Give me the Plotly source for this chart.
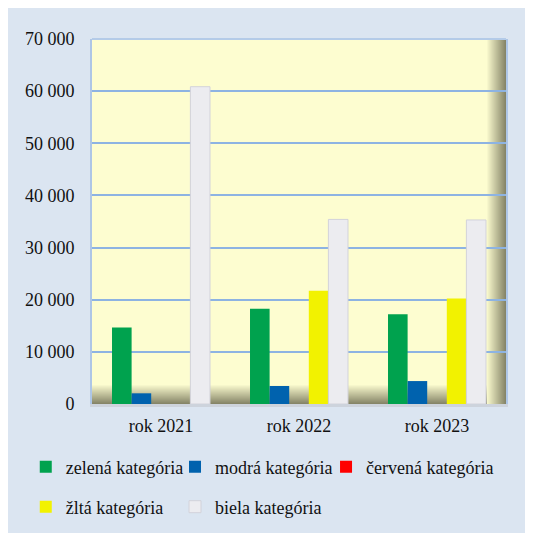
import plotly.graph_objects as go

categories = ["rok 2021", "rok 2022", "rok 2023"]
series_names = ["zelená kategória", "modrá kategória", "červená kategória", "žltá kategória", "biela kategória"]
zelena = [14650, 18250, 17200]
modra = [2050, 3450, 4400]
cervena = [0, 0, 0]
zlta = [0, 21700, 20250]
biela = [60850, 35400, 35300]
y_ticks = [0, 10000, 20000, 30000, 40000, 50000, 60000, 70000]

values = [zelena, modra, cervena, zlta, biela]
colors = ["#00a24e", "#0062ae", "#ff0000", "#f2f200", "#ececf0"]
line_colors = ["#00a24e", "#0062ae", "#ff0000", "#f2f200", "#d2d2da"]
line_widths = [0, 0, 0, 0, 1]
legend_ids = ["legend", "legend2", "legend3", "legend4", "legend5"]

fig = go.Figure()
for name, vals, c, lc, lw, lg in zip(series_names, values, colors, line_colors, line_widths, legend_ids):
    fig.add_trace(go.Bar(
        x=categories, y=vals, name=name,
        marker=dict(color=c, line=dict(color=lc, width=lw)),
        legend=lg, showlegend=True,
    ))

# decorative 3D-ish shading of floor and right wall (opaque strips, linear gradient)
plot_w_px = 414.0
plot_h_px = 365.0
bg = (253, 253, 208)
dark = (134, 133, 104)
shapes = []
n = 19
for i in range(n):
    t = (i + 1) / n
    col = "rgb(%d,%d,%d)" % tuple(int(round(bg[k] + (dark[k] - bg[k]) * t)) for k in range(3))
    y1 = (n - i) / plot_h_px
    y0 = (n - i - 1.6) / plot_h_px
    shapes.append(dict(type="rect", xref="paper", yref="paper", x0=0, x1=1, y0=max(y0, 0), y1=y1,
                       fillcolor=col, line=dict(width=0), layer="below"))
for i in range(n):
    t = (i + 1) / n
    col = "rgb(%d,%d,%d)" % tuple(int(round(bg[k] + (dark[k] - bg[k]) * t)) for k in range(3))
    x0 = 1 - (n - i) / plot_w_px
    x1 = 1 - (n - i - 1.6) / plot_w_px
    shapes.append(dict(type="rect", xref="paper", yref="paper", x0=x0, x1=min(x1, 1), y0=0, y1=1,
                       fillcolor=col, line=dict(width=0), layer="below"))
# top border of the plot area
shapes.append(dict(type="line", xref="paper", yref="paper", x0=0, x1=1, y0=1, y1=1,
                   line=dict(color="#b4cbe8", width=2)))

font_family = "Liberation Serif"
legend_font = dict(family=font_family, size=18, color="#111111")

col_x = [-0.160, 0.2005, 0.5653]
row_y = [-0.1219, -0.2315]
legend_pos = {
    "legend": (col_x[0], row_y[0]),
    "legend2": (col_x[1], row_y[0]),
    "legend3": (col_x[2], row_y[0]),
    "legend4": (col_x[0], row_y[1]),
    "legend5": (col_x[1], row_y[1]),
}
legend_layout = {}
for key, (lx, ly) in legend_pos.items():
    legend_layout[key] = dict(orientation="h", x=lx, xanchor="left", y=ly, yanchor="top",
                              bgcolor="rgba(0,0,0,0)", font=legend_font, visible=True)

fig.update_layout(
    width=517, height=533,
    margin=dict(l=84, r=19, t=31, b=137),
    paper_bgcolor="#dbe5f1",
    plot_bgcolor="#fdfdd0",
    barmode="group",
    bargap=0.29,
    bargroupgap=0,
    separators=", ",
    showlegend=True,
    font=dict(family=font_family, size=18, color="#111111"),
    shapes=shapes,
    **legend_layout,
)
fig.update_yaxes(range=[0, 70000], tickvals=y_ticks, tickformat=",d",
                 showgrid=True, gridcolor="#8db3e2", gridwidth=2, zeroline=False,
                 showline=True, linecolor="#aec6e6", linewidth=2, mirror=True,
                 ticks="", ticklabelstandoff=12)
fig.update_xaxes(showgrid=False, showline=True, linecolor="#cdd3dc", linewidth=3, mirror=False,
                 ticks="", ticklabelstandoff=3)

fig.write_html("out.html")
